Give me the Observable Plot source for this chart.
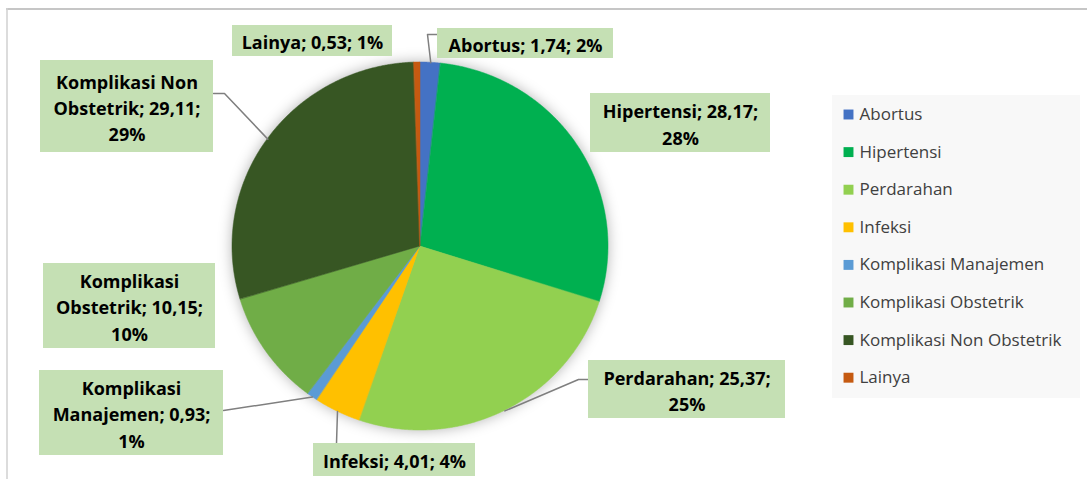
<!DOCTYPE html>
<html>
<head>
<meta charset="utf-8">
<script src="https://cdn.jsdelivr.net/npm/d3@7"></script>
<script src="https://cdn.jsdelivr.net/npm/@observablehq/plot@0.6"></script>
<style>
  html, body { margin: 0; padding: 0; background: #ffffff; }
  #chart svg { display: block; }
</style>
</head>
<body>
<div id="chart"></div>
<script>
// ---- Data ----
const categories = ["Abortus", "Hipertensi", "Perdarahan", "Infeksi", "Komplikasi Manajemen", "Komplikasi Obstetrik", "Komplikasi Non Obstetrik", "Lainya"];
const values = [1.74, 28.17, 25.37, 4.01, 0.93, 10.15, 29.11, 0.53];
const colors = ["#4472C4", "#00B050", "#92D050", "#FFC000", "#5B9BD5", "#70AD47", "#375623", "#C55A11"];
// label text with line breaks as in the reference
const labelNames = ["Abortus", "Hipertensi", "Perdarahan", "Infeksi", "Komplikasi\nManajemen", "Komplikasi\nObstetrik", "Komplikasi Non\nObstetrik", "Lainya"];

// ---- Layout (pixel space) ----
const W = 1087, H = 479;
const pie = {cx: 420, cy: 246, rx: 188, ry: 184};
const labelLayout = {
  "Abortus":                  {box: [437, 28, 613, 58], leader: [[427, 34], [437, 34]], sep: " "},
  "Hipertensi":               {box: [590, 93, 770, 152], leader: null, sep: "\n"},
  "Perdarahan":               {box: [588, 360, 785, 418], leader: [[578, 379], [588, 379]], sep: "\n"},
  "Infeksi":                  {box: [313, 443, 475, 476], leader: [[336, 443]], sep: " "},
  "Komplikasi Manajemen":     {box: [39, 370, 223, 455], leader: [[223, 410]], sep: "\n"},
  "Komplikasi Obstetrik":     {box: [43, 263, 215, 348], leader: null, sep: "\n"},
  "Komplikasi Non Obstetrik": {box: [40, 60, 213, 152], leader: [[224, 93], [213, 93]], sep: "\n"},
  "Lainya":                   {box: [232, 25, 392, 56], leader: null, sep: " "}
};
const legendLayout = {box: [832, 95, 1080, 398], x: 848, textX: 859, y0: 114, dy: 37.6};

// ---- Derived geometry ----
const total = d3.sum(values);
const fmt = v => d3.format(".2f")(v).replace(".", ",");
const arcs = d3.pie().sort(null).value(d => d)(values);
const pt = (a) => ({x: pie.cx + pie.rx * Math.sin(a), y: pie.cy - pie.ry * Math.cos(a)});

// each wedge = area between the pie centre (x1,y1) and the arc (x2,y2)
const slicePts = [];
arcs.forEach((a, i) => {
  const name = categories[i];
  const n = Math.max(2, Math.ceil((a.endAngle - a.startAngle) / 0.005));
  for (let k = 0; k <= n; k++) {
    const t = a.startAngle + (a.endAngle - a.startAngle) * k / n;
    slicePts.push({name, cx: pie.cx, cy: pie.cy, ...pt(t)});
  }
});
const outlinePts = d3.range(0, 361, 2).map(deg => ({cx: pie.cx, cy: pie.cy, ...pt(deg * Math.PI / 180)}));

const labels = categories.map((name, i) => {
  const L = labelLayout[name];
  const pct = Math.round(values[i] / total * 100) + "%";
  const head = labelNames[i] + "; " + fmt(values[i]) + ";";
  const text = L.sep === " " ? head + " " + pct : head + "\n" + pct;
  return {name, text, x1: L.box[0], y1: L.box[1], x2: L.box[2], y2: L.box[3],
          x: (L.box[0] + L.box[2]) / 2, y: (L.box[1] + L.box[3]) / 2};
});

const leaders = [];
arcs.forEach((a, i) => {
  const L = labelLayout[categories[i]];
  if (!L.leader) return;
  const mid = (a.startAngle + a.endAngle) / 2;
  const p0 = pt(mid);
  leaders.push({name: categories[i], x: p0.x, y: p0.y});
  L.leader.forEach(([x, y]) => leaders.push({name: categories[i], x, y}));
});

const legendItems = categories.map((name, i) => ({
  name, y: legendLayout.y0 + i * legendLayout.dy
}));

const plot = Plot.plot({
  width: W, height: H,
  margin: 0,
  x: {domain: [0, W], range: [0, W], axis: null},
  y: {domain: [0, H], range: [0, H], axis: null},
  color: {domain: categories, range: colors, legend: false},
  style: {background: "white", overflow: "visible"},
  marks: [
    // chart frame
    Plot.ruleY([8.5], {x1: 6, x2: W, stroke: "#b3b3b3", strokeWidth: 1.5}),
    Plot.ruleX([6.5], {y1: 8, y2: H, stroke: "#d0d0d0", strokeWidth: 1.5}),
    // soft shadow under the pie (first area mark)
    Plot.area(outlinePts, {x1: "cx", y1: "cy", x2: "x", y2: "y", fill: "#000000", fillOpacity: 0.3, curve: "linear"}),
    // pie slices
    Plot.area(slicePts, {x1: "cx", y1: "cy", x2: "x", y2: "y", z: "name", fill: "name", stroke: "name", strokeWidth: 0.5, curve: "linear"}),
    // leader lines
    Plot.line(leaders, {x: "x", y: "y", z: "name", stroke: "#7f7f7f", strokeWidth: 1.5, curve: "linear"}),
    // label boxes
    Plot.rect(labels, {x1: "x1", x2: "x2", y1: "y1", y2: "y2", fill: "#C5E0B4"}),
    Plot.text(labels, {x: "x", y: "y", text: "text", fontSize: 18, fontWeight: "bold", fontFamily: "'Open Sans', sans-serif", fill: "#000000", lineHeight: 1.47, textAnchor: "middle", lineAnchor: "middle"}),
    // legend
    Plot.rect([legendLayout], {x1: d => d.box[0], x2: d => d.box[2], y1: d => d.box[1], y2: d => d.box[3], fill: "#f8f8f8"}),
    Plot.dot(legendItems, {x: () => legendLayout.x, y: "y", fill: "name", symbol: "square", r: 5.6, stroke: null}),
    Plot.text(legendItems, {x: () => legendLayout.textX, y: "y", text: "name", textAnchor: "start", fontSize: 17, fontFamily: "'Open Sans', sans-serif", fill: "#404040"})
  ]
});

// blur the shadow copy (first area group)
const svg = d3.select(plot);
const defs = svg.insert("defs", ":first-child");
const f = defs.append("filter").attr("id", "pieBlur").attr("x", "-20%").attr("y", "-20%").attr("width", "140%").attr("height", "140%");
f.append("feGaussianBlur").attr("stdDeviation", 7);
const areaGroups = svg.selectAll("g[aria-label='area']").nodes();
if (areaGroups.length) d3.select(areaGroups[0]).attr("filter", "url(#pieBlur)");

document.getElementById("chart").appendChild(plot);
</script>
</body>
</html>
